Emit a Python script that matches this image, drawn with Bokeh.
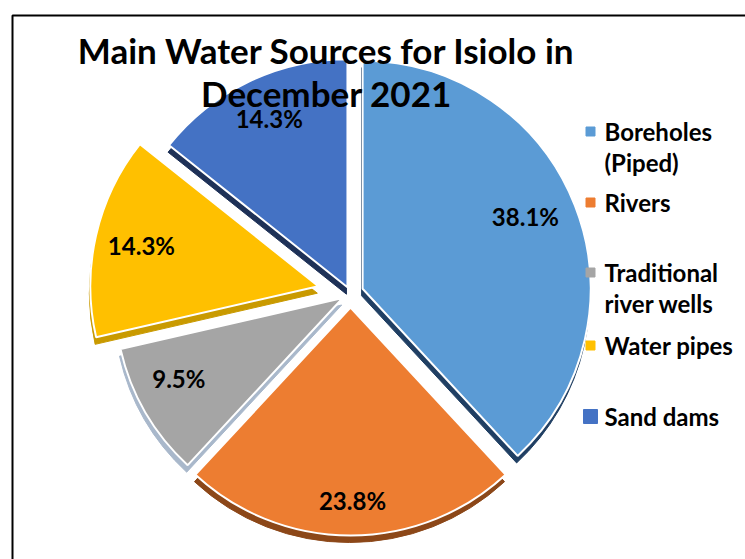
import numpy as np
from bokeh.plotting import figure
from bokeh.models import Range1d, ColumnDataSource
from bokeh.core.properties import value
from bokeh.embed import file_html
from bokeh.resources import INLINE

# ---- data ----
categories = ["Boreholes (Piped)", "Rivers", "Traditional river wells", "Water pipes", "Sand dams"]
legend_lines = [["Boreholes", "(Piped)"], ["Rivers"], ["Traditional", "river wells"], ["Water pipes"], ["Sand dams"]]
shares = [38.1, 23.8, 9.5, 14.3, 14.3]
title_lines = ["Main Water Sources for Isiolo in", "December 2021"]

# ---- style ----
colors = ["#5B9BD5", "#ED7D31", "#A5A5A5", "#FFC000", "#4472C4"]
side_colors = ["#203F63", "#8C4718", "#A9B8CB", "#C99A00", "#1E3157"]
explode = [13, 14, 9, 33, 7]
label_shift = [(-7, -6), (2, 11), (-6, -11), (1, 0), (1, -4)]  # screen px
legend_y = [131, 202, 272, 345, 416]
legend_marker_size = [9, 9, 9, 9, 14]
FONT = "Lato"

W, H = 745, 559
def sy(y):
    return H - y

cx, cy = 350, sy(293)
R = 228
depth = 7

p = figure(width=W, height=H, x_range=Range1d(0, W), y_range=Range1d(0, H),
           output_backend="svg", toolbar_location=None, min_border=0)
p.axis.visible = False
p.grid.visible = False
p.outline_line_color = None
p.background_fill_color = "white"

# frame
p.quad(left=[12], right=[770], top=[sy(15)], bottom=[sy(590)],
       fill_color=None, line_color="black", line_width=2)

vals = np.array(shares, dtype=float)
frac = vals / vals.sum()
cum = np.concatenate([[0], np.cumsum(frac)])
start = np.pi / 2 - 2 * np.pi * cum[:-1]
end = np.pi / 2 - 2 * np.pi * cum[1:]
mid = (start + end) / 2
ex = np.array(explode, dtype=float)

ax = cx + ex * np.cos(mid)
ay = cy + ex * np.sin(mid)

shx = np.array([s[0] for s in label_shift], dtype=float)
shy = np.array([s[1] for s in label_shift], dtype=float)

src = ColumnDataSource(dict(x=ax, y=ay, sx=ax - 1, sy=ay - depth, start=start, end=end,
                            color=colors, side=side_colors, cat=categories,
                            lx=ax + 0.8 * R * np.cos(mid) + shx,
                            ly=ay + 0.8 * R * np.sin(mid) - shy,
                            lab=["%.1f%%" % v for v in shares]))

p.wedge(x="sx", y="sy", radius=R, start_angle="start", end_angle="end", direction="clock",
        fill_color="side", line_color="side", source=src)
p.wedge(x="x", y="y", radius=R, start_angle="start", end_angle="end", direction="clock",
        fill_color="color", line_color="white", line_width=2, source=src)

p.text(x="lx", y="ly", text="lab", source=src, text_font=value(FONT), text_font_style="bold",
       text_font_size="24px", text_color="black", text_align="center", text_baseline="middle")

# title
p.text(x=[326, 326], y=[sy(49), sy(92)], text=title_lines, text_font=value(FONT),
       text_font_style="bold", text_font_size="35px", text_color="black",
       text_align="center", text_baseline="middle")

# legend
lx, ly, lt = [], [], []
for i, lines in enumerate(legend_lines):
    for j, t in enumerate(lines):
        lx.append(604)
        ly.append(sy(legend_y[i] + 31 * j))
        lt.append(t)
p.scatter(x=[590] * len(colors), y=[sy(v) for v in legend_y], size=legend_marker_size,
          marker="square", fill_color=colors, line_color=colors)
p.text(x=lx, y=ly, text=lt, text_font=value(FONT), text_font_style="bold",
       text_font_size="24px", text_color="black", text_align="left", text_baseline="middle")

open("out.html", "w").write(file_html(p, INLINE))
